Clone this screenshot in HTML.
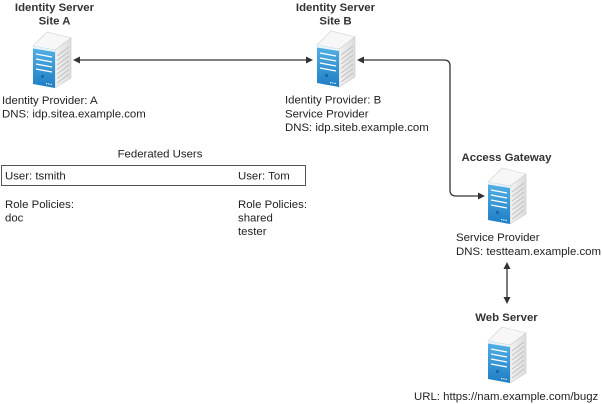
<!DOCTYPE html>
<html>
<head>
<meta charset="utf-8">
<style>
  html,body{margin:0;padding:0;background:#fff;}
  svg{display:block;}
  text{font-family:"Liberation Sans",Arial,sans-serif;font-size:11.4px;fill:#222;}
  .b{font-weight:bold;fill:#333;}
</style>
</head>
<body>
<svg width="602" height="404" viewBox="0 0 602 404" xmlns="http://www.w3.org/2000/svg">
  <defs>
    <linearGradient id="blue" x1="0" y1="0" x2="0" y2="1">
      <stop offset="0" stop-color="#55b2e6"/>
      <stop offset="1" stop-color="#1d7ec4"/>
    </linearGradient>
    <linearGradient id="side" x1="0" y1="0" x2="1" y2="0">
      <stop offset="0" stop-color="#f2f2f2"/>
      <stop offset="1" stop-color="#dcdcdc"/>
    </linearGradient>
    <g id="srv">
      <polygon points="22,18 38,6 38,46 22,56" fill="url(#side)" stroke="#c8c8c8" stroke-width="0.6"/>
      <g stroke="#bdbdbd" stroke-width="0.8">
        <line x1="24" y1="24" x2="36" y2="15"/>
        <line x1="24" y1="28.5" x2="36" y2="19.5"/>
        <line x1="24" y1="33" x2="36" y2="24"/>
        <line x1="24" y1="37.5" x2="36" y2="28.5"/>
        <line x1="24" y1="42" x2="36" y2="33"/>
        <line x1="24" y1="46.5" x2="36" y2="37.5"/>
        <line x1="24" y1="51" x2="36" y2="42"/>
      </g>
      <polygon points="0,14 14,0 38,6 22,18" fill="#f7f7f7" stroke="#cfcfcf" stroke-width="0.6"/>
      <polygon points="0,14 22,18 22,56 0,52" fill="url(#blue)"/>
      <polygon points="0,14 22,18 22,20 0,16.5" fill="#e8f3fa"/>
      <g stroke="#ffffff" stroke-width="1.2">
        <line x1="3" y1="22" x2="19" y2="25"/>
        <line x1="3" y1="27" x2="19" y2="30"/>
        <line x1="3" y1="32" x2="19" y2="35"/>
        <line x1="3" y1="37" x2="19" y2="40"/>
      </g>
      <rect x="8" y="43" width="3" height="3" fill="#1a6aa6"/>
      <g fill="#ffffff">
        <rect x="13" y="51" width="1.2" height="1.2"/>
        <rect x="15.3" y="51.4" width="1.2" height="1.2"/>
        <rect x="17.6" y="51.8" width="1.2" height="1.2"/>
      </g>
    </g>
  </defs>

  <use href="#srv" x="33" y="32"/>
  <use href="#srv" x="317" y="31"/>
  <use href="#srv" x="488" y="168"/>
  <use href="#srv" x="488" y="327"/>

  <line x1="79" y1="60" x2="307" y2="60" stroke="#333" stroke-width="1.3"/>
  <polygon points="73,60 80,56.5 80,63.5" fill="#333"/>
  <polygon points="313,60 306,56.5 306,63.5" fill="#333"/>

  <path d="M363,60 H444 Q450,60 450,66 V190 Q450,196 456,196 H479" fill="none" stroke="#333" stroke-width="1.3"/>
  <polygon points="357,60 364,56.5 364,63.5" fill="#333"/>
  <polygon points="485,196 478,192.5 478,199.5" fill="#333"/>

  <line x1="507" y1="268" x2="507" y2="298" stroke="#333" stroke-width="1.3"/>
  <polygon points="507,262 503.5,269 510.5,269" fill="#333"/>
  <polygon points="507,304 503.5,297 510.5,297" fill="#333"/>

  <text class="b" x="54.5" y="11" text-anchor="middle">Identity Server</text>
  <text class="b" x="54.5" y="24.5" text-anchor="middle">Site A</text>
  <text x="2" y="104">Identity Provider: A</text>
  <text x="2" y="117.5">DNS: idp.sitea.example.com</text>

  <text class="b" x="335.5" y="11" text-anchor="middle">Identity Server</text>
  <text class="b" x="335.5" y="24.5" text-anchor="middle">Site B</text>
  <text x="285" y="103.5">Identity Provider: B</text>
  <text x="285" y="117.5">Service Provider</text>
  <text x="285" y="131">DNS: idp.siteb.example.com</text>

  <text x="160" y="157.5" text-anchor="middle">Federated Users</text>
  <rect x="1.5" y="165.5" width="304" height="20" fill="none" stroke="#555" stroke-width="1"/>
  <text x="5" y="179.5">User: tsmith</text>
  <text x="238" y="179.5">User: Tom</text>
  <text x="5" y="208">Role Policies:</text>
  <text x="5" y="221.5">doc</text>
  <text x="238" y="208">Role Policies:</text>
  <text x="238" y="221.5">shared</text>
  <text x="238" y="235">tester</text>

  <text class="b" x="506.5" y="161" text-anchor="middle">Access Gateway</text>
  <text x="456" y="241">Service Provider</text>
  <text x="456" y="255">DNS: testteam.example.com</text>

  <text class="b" x="506.5" y="321" text-anchor="middle">Web Server</text>
  <text x="414" y="400">URL: https://nam.example.com/bugz</text>
</svg>
</body>
</html>
